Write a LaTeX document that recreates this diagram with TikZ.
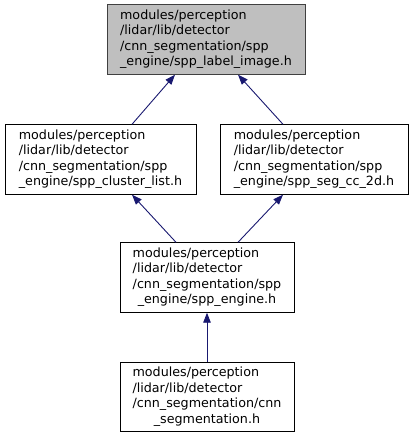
\documentclass[tikz,border=0pt]{standalone}
\usepackage{fontspec}
\setmainfont{DejaVu Sans}
\usetikzlibrary{arrows.meta}
\definecolor{edgeblue}{HTML}{191970}
\definecolor{selfill}{HTML}{BFBFBF}
\definecolor{selborder}{HTML}{404040}
\newcommand{\lbl}[4]{\begin{tabular}{@{}l@{}}#1\\#2\\#3\\\multicolumn{1}{@{}c@{}}{#4}\end{tabular}}
\tikzset{
  filebox/.style={draw=black, fill=white, line width=0.9pt, rectangle, inner sep=0pt,
    font=\fontsize{12.7}{15.5}\selectfont, minimum height=69.5pt},
  selbox/.style={filebox, draw=selborder, fill=selfill},
  arr/.style={draw=edgeblue, line width=0.9pt, -{Triangle[length=10pt,width=7.5pt]}}
}
\begin{document}
\begin{tikzpicture}[x=1pt,y=-1pt]
\useasboundingbox (0,0) rectangle (413,437);
\node[selbox, minimum width=198pt] (top) at (206,39.5) {\lbl{modules/perception}{/lidar/lib/detector}{/cnn\_segmentation/spp}{\_engine/spp\_label\_image.h}};
\node[filebox, minimum width=191pt] (cl) at (100.5,159.5) {\lbl{modules/perception}{/lidar/lib/detector}{/cnn\_segmentation/spp}{\_engine/spp\_cluster\_list.h}};
\node[filebox, minimum width=188pt] (cc) at (314,159.5) {\lbl{modules/perception}{/lidar/lib/detector}{/cnn\_segmentation/spp}{\_engine/spp\_seg\_cc\_2d.h}};
\node[filebox, minimum width=174pt] (eng) at (207,277.5) {\lbl{modules/perception}{/lidar/lib/detector}{/cnn\_segmentation/spp}{\_engine/spp\_engine.h}};
\node[filebox, minimum width=174pt] (cnn) at (207,397) {\lbl{modules/perception}{/lidar/lib/detector}{/cnn\_segmentation/cnn}{\_segmentation.h}};
\draw[arr] ([xshift=31.5pt]cl.north) -- ([xshift=-31pt]top.south);
\draw[arr] ([xshift=-31pt]cc.north) -- ([xshift=32pt]top.south);
\draw[arr] ([xshift=-31pt]eng.north) -- ([xshift=31.5pt]cl.south);
\draw[arr] ([xshift=31pt]eng.north) -- ([xshift=-31pt]cc.south);
\draw[arr] (cnn.north) -- (eng.south);
\end{tikzpicture}
\end{document}
